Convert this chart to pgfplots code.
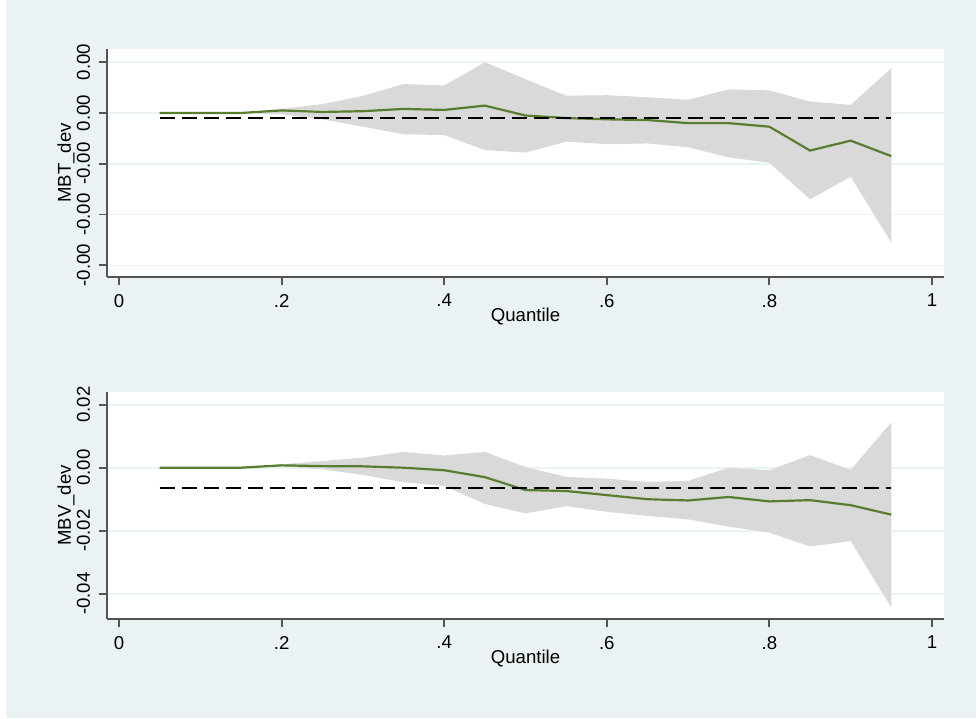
\documentclass[border=0pt]{standalone}
\usepackage{pgfplots}
\pgfplotsset{compat=1.18}
\usepackage{pgfplotstable}
\usepgfplotslibrary{fillbetween}
\usepackage{fontspec}
\setmainfont{Liberation Sans}
\definecolor{bgc}{HTML}{EAF2F3}
\definecolor{gridc}{HTML}{EAF2F3}
\definecolor{bandc}{HTML}{D9D9D9}
\definecolor{linec}{RGB}{88,125,46}
\definecolor{axc}{HTML}{555555}

\pgfdeclarelayer{bglayer}
\pgfplotsset{
  layers/withbg/.define layer set={
    bglayer,axis background,axis grid,axis ticks,axis lines,axis tick labels,pre main,main,axis descriptions,axis foreground
  }{
    grid style= {/pgfplots/on layer=axis grid},
    tick style= {/pgfplots/on layer=axis ticks},
    axis line style= {/pgfplots/on layer=axis lines},
    label style= {/pgfplots/on layer=axis descriptions},
    legend style= {/pgfplots/on layer=axis descriptions},
    title style= {/pgfplots/on layer=axis descriptions},
    ticklabel style= {/pgfplots/on layer=axis tick labels},
    axis background@ style={/pgfplots/on layer=axis background},
  },
  set layers=withbg,
}

\pgfplotstableread{
q      est       lo        hi
0.05   0.0       0.0       0.0
0.10   0.0       0.0       0.0
0.15   0.0       0.0       0.0
0.20   0.00010  -0.00005   0.00016
0.25   0.00004  -0.00025   0.00035
0.30   0.00007  -0.00054   0.00067
0.35   0.00016  -0.00084   0.00114
0.40   0.00012  -0.00087   0.00108
0.45   0.00029  -0.00146   0.00200
0.50  -0.00010  -0.00156   0.00133
0.55  -0.00020  -0.00113   0.00068
0.60  -0.00025  -0.00123   0.00070
0.65  -0.00028  -0.00120   0.00062
0.70  -0.00040  -0.00135   0.00052
0.75  -0.00040  -0.00175   0.00093
0.80  -0.00054  -0.00196   0.00089
0.85  -0.00148  -0.00340   0.00045
0.90  -0.00109  -0.00251   0.00032
0.95  -0.00170  -0.00511   0.00176
}\mbt

\pgfplotstableread{
q      est       lo        hi
0.05   0.0       0.0       0.0
0.10   0.0       0.0       0.0
0.15   0.0       0.0       0.0
0.20   0.00075   0.0004    0.0011
0.25   0.0005   -0.0005    0.0021
0.30   0.00043  -0.0023    0.0032
0.35   0.0      -0.0046    0.0050
0.40  -0.0008   -0.0058    0.0039
0.45  -0.0030   -0.0115    0.0050
0.50  -0.0071   -0.0145    0.0002
0.55  -0.0074   -0.0122   -0.0029
0.60  -0.0087   -0.0140   -0.0035
0.65  -0.0100   -0.0153   -0.0045
0.70  -0.0104   -0.0164   -0.0042
0.75  -0.0093   -0.0187    0.0000
0.80  -0.0107   -0.0206   -0.0008
0.85  -0.0103   -0.0250    0.0040
0.90  -0.0119   -0.0233   -0.0007
0.95  -0.0149   -0.0444    0.0144
}\mbv

\pgfplotsset{
  statastyle/.style={
    scale only axis,
    width=418.5pt,
    xmin=-0.0148, xmax=1.0148,
    axis lines*=left,
    axis line style={axc, line width=0.9pt},
    tick style={axc, line width=0.9pt},
    tick align=outside,
    major tick length=4pt,
    xtick={0,0.2,0.4,0.6,0.8,1},
    xticklabels={0,.2,.4,.6,.8,1},
    xtick pos=lower, ytick pos=left,
    scaled y ticks=false,
    ymajorgrids,
    major grid style={gridc, line width=0.8pt},
    axis background/.style={fill=white},
    tick label style={font=\fontsize{9.3}{11}\selectfont, text=black},
    label style={font=\fontsize{9.3}{11}\selectfont, text=black},
    xticklabel style={anchor=north, yshift=-1pt},
    yticklabel style={rotate=90, anchor=south, yshift=1pt},
    xlabel={Quantile},
    xlabel style={at={(axis description cs:0.5,0)}, anchor=center, yshift=-20pt},
    ylabel style={at={(axis description cs:0,0.5)}, anchor=center, rotate=0, yshift=20.5pt},
    /pgf/number format/assume math mode=true,
    clip=true,
  }
}

\begin{document}
\begin{tikzpicture}
\begin{pgfonlayer}{bglayer}
\fill[white] (0,0) rectangle (490pt,359pt);
\fill[bgc] (3pt,0) rectangle (488pt,359pt);
\end{pgfonlayer}

% top panel
\begin{axis}[statastyle,
  at={(53.5pt,220.5pt)}, anchor=south west,
  height=114pt,
  ymin=-0.00646, ymax=0.00252,
  ytick={-0.006,-0.004,-0.002,0,0.002},
  yticklabels={-0.00,-0.00,-0.00,0.00,0.00},
  ylabel={MBT\_dev},
]
\addplot[name path=hi, draw=none, forget plot] table[x=q, y=hi] {\mbt};
\addplot[name path=lo, draw=none, forget plot] table[x=q, y=lo] {\mbt};
\addplot[bandc, draw=none] fill between[of=hi and lo];
\addplot[linec, line width=1.1pt] table[x=q, y=est] {\mbt};
\addplot[black, line width=1pt, dash pattern=on 7.5pt off 3.5pt] coordinates {(0.05,-0.0002) (0.95,-0.0002)};
\end{axis}

% bottom panel
\begin{axis}[statastyle,
  at={(53.5pt,49.5pt)}, anchor=south west,
  height=113.5pt,
  ymin=-0.04803, ymax=0.02403,
  ytick={-0.04,-0.02,0,0.02},
  yticklabels={-0.04,-0.02,0.00,0.02},
  ylabel={MBV\_dev},
]
\addplot[name path=hi, draw=none, forget plot] table[x=q, y=hi] {\mbv};
\addplot[name path=lo, draw=none, forget plot] table[x=q, y=lo] {\mbv};
\addplot[bandc, draw=none] fill between[of=hi and lo];
\addplot[linec, line width=1.1pt] table[x=q, y=est] {\mbv};
\addplot[black, line width=1pt, dash pattern=on 7.5pt off 3.5pt] coordinates {(0.05,-0.00635) (0.95,-0.00635)};
\end{axis}
\end{tikzpicture}
\end{document}
